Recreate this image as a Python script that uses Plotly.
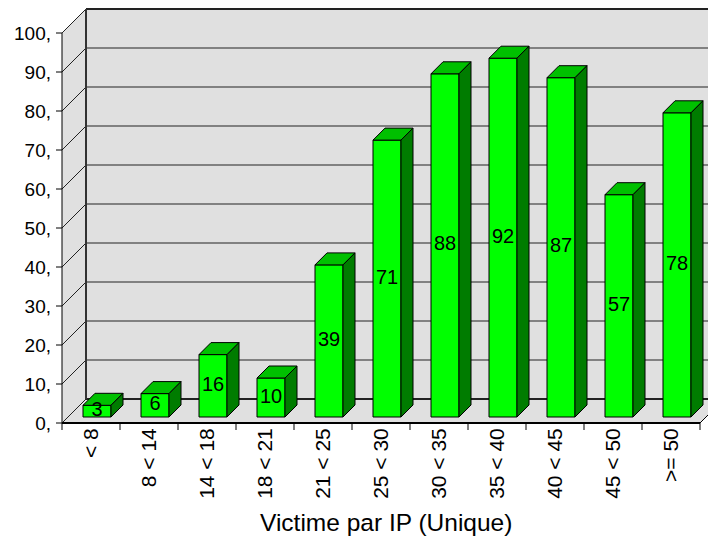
import plotly.graph_objects as go

categories = ["< 8", "8 < 14", "14 < 18", "18 < 21", "21 < 25", "25 < 30",
              "30 < 35", "35 < 40", "40 < 45", "45 < 50", ">= 50"]
values = [3, 6, 16, 10, 39, 71, 88, 92, 87, 57, 78]
ytick_vals = list(range(0, 101, 10))
ytick_text = [f"{v}," for v in ytick_vals]
x_title = "Victime par IP (Unique)"

# ---- geometry (page pixels -> axis units); the page body has an 8px margin ----
OFF = 8
W, H = 716 - OFF, 537 - OFF
PXX, PXY = 58.0, 3.9          # px per category, px per value unit
X0, Y0 = 62 - OFF, 423 - OFF  # figure pixel of (x=-0.5, y=0)
L, R, T, B = 52 - OFF, W, 0, 431 - OFF  # plot area in figure px
DX, DY = 24 / PXX, 24 / PXY   # wall depth
n = len(categories)
xr = [(L - X0) / PXX - 0.5, (R - X0) / PXX - 0.5]
yr = [(Y0 - B) / PXY, (Y0 - T) / PXY]
YMAX = 100

FONT = "Arial, 'Liberation Sans', sans-serif"
WALL = "#e0e0e0"
shapes = []

def path(pts):
    return "M " + " L ".join(f"{x},{y}" for x, y in pts) + " Z"

xl, xrgt = -0.5, n - 0.5
# walls
shapes.append(dict(type="path", path=path([(xl, 0), (xl + DX, DY), (xl + DX, YMAX + DY), (xl, YMAX)]),
                   fillcolor=WALL, line=dict(width=0), layer="below"))
shapes.append(dict(type="rect", x0=xl + DX, x1=xrgt + DX + 2, y0=DY, y1=YMAX + DY,
                   fillcolor=WALL, line=dict(width=0), layer="below"))
shapes.append(dict(type="path", path=path([(xl, 0), (xrgt, 0), (xrgt + DX, DY), (xl + DX, DY)]),
                   fillcolor=WALL, line=dict(width=0), layer="below"))
# gridlines
for v in ytick_vals:
    w = 2 if v in (0, YMAX) else 1
    shapes.append(dict(type="line", x0=xl, y0=v, x1=xl + DX, y1=v + DY,
                       line=dict(color="#222", width=1), layer="below"))
    shapes.append(dict(type="line", x0=xl + DX, y0=v + DY, x1=xrgt + DX + 2, y1=v + DY,
                       line=dict(color="#222", width=w), layer="below"))
    shapes.append(dict(type="line", x0=xl - 6 / PXX, y0=v, x1=xl, y1=v,
                       line=dict(color="#000", width=1), layer="below"))
# edges
shapes.append(dict(type="line", x0=xl + DX, y0=DY, x1=xl + DX, y1=YMAX + DY,
                   line=dict(color="#333", width=2), layer="below"))
shapes.append(dict(type="line", x0=xl, y0=0, x1=xl, y1=YMAX,
                   line=dict(color="#000", width=1), layer="below"))
shapes.append(dict(type="line", x0=xl, y0=0, x1=xrgt, y1=0,
                   line=dict(color="#000", width=2), layer="below"))
shapes.append(dict(type="line", x0=xrgt, y0=0, x1=xrgt + DX, y1=DY,
                   line=dict(color="#000", width=1), layer="below"))
for i in range(n + 1):
    shapes.append(dict(type="line", x0=i - 0.5, y0=0, x1=i - 0.5, y1=-7 / PXY,
                       line=dict(color="#000", width=1), layer="below"))

# ---- bars ----
BW = 28 / PXX
BDX, BDY = 12 / PXX, 12 / PXY
FOX, FOY = 6 / PXX, 6 / PXY
xc = [i + FOX for i in range(n)]

fig = go.Figure()
fig.add_trace(go.Bar(x=xc, y=values, base=FOY, width=BW,
                     marker=dict(color="#00ff00", line=dict(color="#000", width=1)),
                     hoverinfo="skip"))

tx, ty, sx, sy = [], [], [], []
for x, v in zip(xc, values):
    a, b = x - BW / 2, x + BW / 2
    top = FOY + v
    tx += [a, a + BDX, b + BDX, b, a, None]
    ty += [top, top + BDY, top + BDY, top, top, None]
    sx += [b, b, b + BDX, b + BDX, b, None]
    sy += [FOY, top, top + BDY, FOY + BDY, FOY, None]
fig.add_trace(go.Scatter(x=tx, y=ty, fill="toself", fillcolor="#00c000", mode="lines",
                         line=dict(color="#000", width=1), hoverinfo="skip"))
fig.add_trace(go.Scatter(x=sx, y=sy, fill="toself", fillcolor="#007c00", mode="lines",
                         line=dict(color="#000", width=1), hoverinfo="skip"))
fig.add_trace(go.Scatter(x=xc, y=[FOY + v / 2 for v in values], mode="text",
                         text=[str(v) for v in values], textposition="middle center",
                         textfont=dict(family=FONT, size=20, color="#000"),
                         hoverinfo="skip"))

fig.update_layout(
    width=W, height=H,
    margin=dict(l=L, r=W - R, t=T, b=H - B, pad=0, autoexpand=False),
    paper_bgcolor="white", plot_bgcolor="white",
    showlegend=False, hovermode=False,
    font=dict(family=FONT, size=20, color="#000"),
    shapes=shapes,
    annotations=[dict(text=x_title, xref="paper", yref="paper", x=0.5, y=0,
                      xanchor="center", yanchor="middle", yshift=-91, xshift=2,
                      showarrow=False, font=dict(size=24.5))],
    xaxis=dict(range=xr, showgrid=False, zeroline=False, showline=False, automargin=False,
               tickvals=list(range(n)), ticktext=categories, tickangle=-90,
               ticks="", tickfont=dict(size=21), ticklabelstandoff=-8),
    yaxis=dict(range=yr, showgrid=False, zeroline=False, showline=False, automargin=False,
               tickvals=ytick_vals, ticktext=ytick_text, ticks="",
               tickfont=dict(size=19)),
)
fig.write_html("out.html")
